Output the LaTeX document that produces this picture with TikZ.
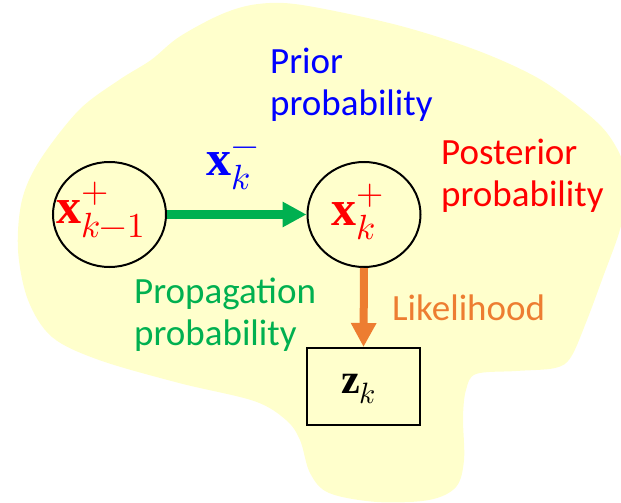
\documentclass[tikz,border=0pt]{standalone}
\usepackage{fontspec}
\usepackage{unicode-math}
\setmainfont{Carlito}
\setmathfont{Latin Modern Math}
\setmathrm{Liberation Serif}
\usetikzlibrary{shapes.geometric,arrows.meta}
\definecolor{blobc}{HTML}{FFFFCC}
\definecolor{pgreen}{HTML}{00B050}
\definecolor{porange}{HTML}{ED7D31}
\definecolor{pblue}{HTML}{0000FF}
\definecolor{pred}{HTML}{FF0000}
\tikzset{
  statenode/.style={ellipse, draw=black, line width=2pt, minimum width=113pt, minimum height=105pt, inner sep=0pt},
  obsbox/.style={rectangle, draw=black, line width=2pt, minimum width=113pt, minimum height=77pt, inner sep=0pt},
  lbl/.style={anchor=base west, inner sep=0pt, align=left, font=\fontsize{37}{42}\selectfont},
  mathlbl/.style={anchor=base west, inner sep=0pt, font=\fontsize{50}{54}\selectfont},
  bigarrow/.style={-{Triangle[length=24pt,width=24pt]}}
}
\begin{document}
\begin{tikzpicture}[x=1pt,y=-1pt]
\useasboundingbox (0,0) rectangle (621,503);
% background blob
\fill[blobc] plot[smooth cycle, tension=0.55] coordinates {
 (258,4) (302,5) (397,25) (476,50) (536,77) (579,107) (607,133) (624,165)
 (626,200) (619,233) (603,277) (587,320) (571,357) (555,368) (516,371)
 (476,374) (466,390) (463,417) (464,460) (456,487) (429,500) (377,502)
 (329,493) (310,473) (300,440) (286,420) (254,401) (179,383) (99,360)
 (52,337) (28,300) (18,250) (22,200) (40,160) (79,110) (119,80) (151,60)
 (179,37) (222,14)};
% nodes
\node[statenode] (a) at (109.5,214.5) {};
\node[statenode] (b) at (364,214.5) {};
\node[obsbox] (c) at (363.5,386.5) {};
% math labels
\node[mathlbl, text=pred] (ta) at (56,223) {$\mathbf{x}_{k-1}^{+}$};
\node[mathlbl, text=pred] (tb) at (331,225) {$\mathbf{x}_{k}^{+}$};
\node[mathlbl, text=pblue] (tm) at (206,175) {$\mathbf{x}_{k}^{-}$};
\node[anchor=base west, inner sep=0pt, font=\fontsize{42}{46}\selectfont] (tz) at (341,393) {$\mathbf{z}_{k}$};
% connectors
\draw[bigarrow, pgreen, line width=9pt] (a.east) -- (b.west);
\draw[bigarrow, porange, line width=8pt] (b.south) -- (c.north);
% text labels (base anchor = last line baseline)
\node[lbl, text=pblue] (prior) at (270,115) {Prior\\probability};
\node[lbl, text=pred] (post) at (441,206) {Posterior\\probability};
\node[lbl, text=pgreen] (prop) at (134,345) {Propagation\\probability};
\node[lbl, text=porange] (lik) at (392,320) {Likelihood};
\end{tikzpicture}
\end{document}
